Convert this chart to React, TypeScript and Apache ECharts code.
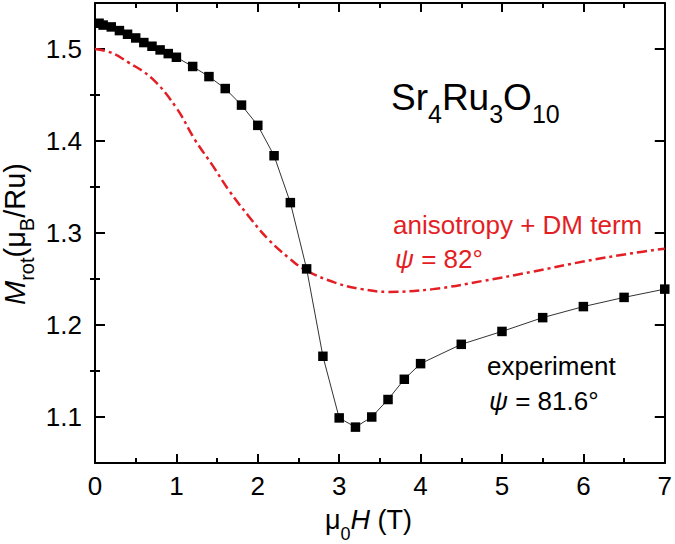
import React, { useEffect, useRef } from "react";
import * as echarts from "echarts";

const FONT = '"Liberation Sans", Arial, Helvetica, sans-serif';
const RED = "#e31e24";

// experiment (black squares)
const expX = [0.05, 0.1, 0.2, 0.3, 0.4, 0.5, 0.6, 0.7, 0.8, 0.9, 1.0, 1.2, 1.4, 1.6, 1.8, 2.0, 2.2, 2.4, 2.6, 2.8, 3.0, 3.2, 3.4, 3.6, 3.8, 4.0, 4.5, 5.0, 5.5, 6.0, 6.5, 7.0];
const expY = [1.528, 1.526, 1.524, 1.52, 1.516, 1.512, 1.507, 1.503, 1.499, 1.495, 1.491, 1.481, 1.47, 1.457, 1.439, 1.417, 1.384, 1.333, 1.261, 1.166, 1.099, 1.089, 1.1, 1.119, 1.141, 1.158, 1.179, 1.193, 1.208, 1.22, 1.23, 1.239];

// theory: anisotropy + DM term (red dash-dot)
const thX = [0, 0.2, 0.4, 0.7, 1.0, 1.23, 1.44, 1.64, 1.89, 2.13, 2.38, 2.58, 2.95, 3.28, 3.6, 4.15, 4.77, 5.38, 6.0, 6.6, 7.0];
const thY = [1.5, 1.496, 1.486, 1.468, 1.436, 1.401, 1.374, 1.347, 1.318, 1.293, 1.273, 1.26, 1.246, 1.239, 1.236, 1.239, 1.248, 1.258, 1.269, 1.278, 1.283];

const yMajor = [1.1, 1.2, 1.3, 1.4, 1.5];
const yMinor = [1.15, 1.25, 1.35, 1.45];

export default function App() {
  const ref = useRef<HTMLDivElement>(null);
  useEffect(() => {
    if (!ref.current) return;
    const chart = echarts.init(ref.current, null, { renderer: "svg" });
    const axisLine = { show: true, onZero: false, lineStyle: { color: "#000", width: 2 } };
    const tickStyle = { color: "#000", width: 2 };
    const xBase = (pos: string, labels: boolean) => ({
      type: "value",
      min: 0,
      max: 7,
      interval: 1,
      position: pos,
      axisLine,
      axisTick: { show: true, inside: true, length: 9, lineStyle: tickStyle },
      minorTick: { show: true, splitNumber: 2, length: 5, lineStyle: tickStyle },
      splitLine: { show: false },
      minorSplitLine: { show: false },
      axisLabel: { show: labels, fontSize: 26, color: "#000", fontFamily: FONT, margin: 10 },
    });
    const yBase = (pos: string, major: boolean, labels: boolean) => ({
      type: "value",
      min: 1.05,
      max: 1.55,
      position: pos,
      axisLine: major ? axisLine : { show: false },
      axisTick: {
        show: true,
        inside: true,
        length: major ? 10 : 5,
        customValues: major ? yMajor : yMinor,
        lineStyle: tickStyle,
      },
      splitLine: { show: false },
      axisLabel: {
        show: labels,
        customValues: yMajor,
        formatter: (v: number) => v.toFixed(1),
        fontSize: 26,
        color: "#000",
        fontFamily: FONT,
        margin: 13,
      },
    });
    const a = { fontSize: 0, fontFamily: FONT, fill: "#000" };
    chart.setOption({
      animation: false,
      grid: { left: 95, right: 10, top: 3, bottom: 81 },
      xAxis: [xBase("bottom", true), xBase("top", false)],
      yAxis: [yBase("left", true, true), yBase("left", false, false), yBase("right", true, false), yBase("right", false, false)],
      series: [
        {
          type: "line",
          name: "experiment",
          data: expX.map((x, i) => [x, expY[i]]),
          xAxisIndex: 0,
          yAxisIndex: 0,
          symbol: "rect",
          symbolSize: 9.5,
          itemStyle: { color: "#000" },
          lineStyle: { color: "#333", width: 1 },
        },
        {
          type: "line",
          name: "anisotropy + DM term",
          data: thX.map((x, i) => [x, thY[i]]),
          xAxisIndex: 0,
          yAxisIndex: 0,
          showSymbol: false,
          smooth: 0.4,
          lineStyle: { color: RED, width: 2.5, type: [10, 4, 3, 4] },
        },
      ],
      graphic: [
        {
          type: "text",
          x: 391,
          y: 97,
          style: {
            text: "{a|Sr}{s|4}{a|Ru}{s|3}{a|O}{s|10}",
            align: "left",
            verticalAlign: "middle",
            rich: {
              a: { ...a, fontSize: 37 },
              s: { ...a, fontSize: 25, padding: [34, 0, 0, 0] },
            },
          },
        },
        {
          type: "text",
          x: 15,
          y: 234,
          rotation: Math.PI / 2,
          style: {
            text: "{i|M}{s|rot}{a|(μ}{s|B}{a|/Ru)}",
            align: "center",
            verticalAlign: "middle",
            rich: {
              a: { ...a, fontSize: 29 },
              i: { ...a, fontSize: 29, fontStyle: "italic" },
              s: { ...a, fontSize: 20, padding: [24, 0, 0, 0] },
            },
          },
        },
        {
          type: "text",
          x: 325,
          y: 520,
          style: {
            text: "{a|μ}{s|0}{i|H}{a| (T)}",
            align: "left",
            verticalAlign: "middle",
            rich: {
              a: { ...a, fontSize: 27 },
              i: { ...a, fontSize: 27, fontStyle: "italic" },
              s: { ...a, fontSize: 18, padding: [28, 0, 0, 0] },
            },
          },
        },
        {
          type: "text",
          x: 393,
          y: 225,
          style: { text: "anisotropy + DM term", fontSize: 26, fontFamily: FONT, fill: RED, align: "left", verticalAlign: "middle" },
        },
        {
          type: "text",
          x: 395,
          y: 259,
          style: {
            text: "{i|ψ}{a| = 82°}",
            align: "left",
            verticalAlign: "middle",
            rich: {
              a: { ...a, fontSize: 26, fill: RED },
              i: { ...a, fontSize: 26, fill: RED, fontStyle: "italic" },
            },
          },
        },
        {
          type: "text",
          x: 487,
          y: 366,
          style: { text: "experiment", fontSize: 26, fontFamily: FONT, fill: "#000", align: "left", verticalAlign: "middle" },
        },
        {
          type: "text",
          x: 489,
          y: 401,
          style: {
            text: "{i|ψ}{a| = 81.6°}",
            align: "left",
            verticalAlign: "middle",
            rich: {
              a: { ...a, fontSize: 26 },
              i: { ...a, fontSize: 26, fontStyle: "italic" },
            },
          },
        },
      ],
    });
    return () => chart.dispose();
  }, []);
  return (
    <div
      ref={ref}
      style={{ position: "fixed", left: 0, top: 0, width: 675, height: 544, background: "#fff" }}
    />
  );
}
